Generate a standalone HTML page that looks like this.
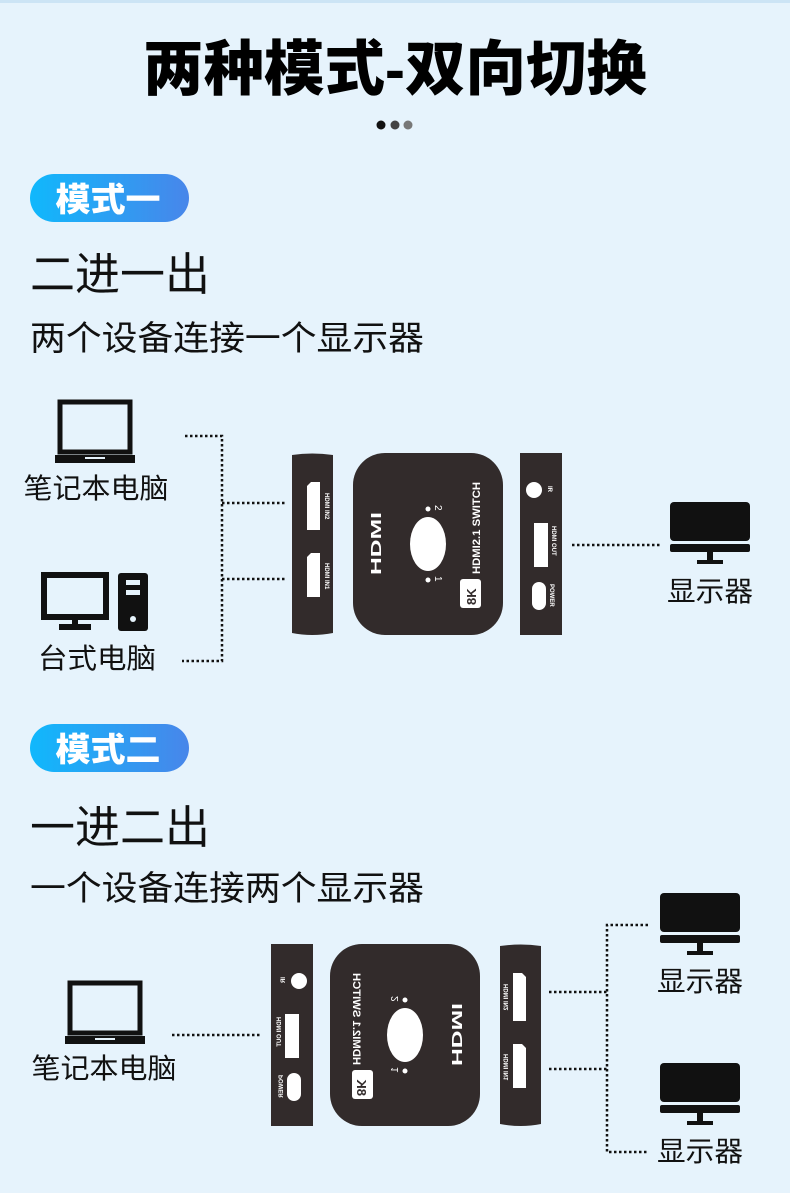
<!DOCTYPE html>
<html><head><meta charset="utf-8"><style>
html,body{margin:0;padding:0;background:#e6f3fc;}
svg{display:block;}
text{font-family:"Liberation Sans","Noto Sans CJK SC",sans-serif;}
</style></head><body>
<svg width="790" height="1193" viewBox="0 0 790 1193" xmlns="http://www.w3.org/2000/svg">
<defs>
<linearGradient id="g" x1="0" x2="1" y1="0" y2="0"><stop offset="0" stop-color="#10b8fc"/><stop offset="1" stop-color="#4886ea"/></linearGradient>
<g id="dev">
  <path d="M0 2 Q20 -1 41 2 L41 180 Q20 184 0 180 Z" fill="#322b2b"/>
  <rect x="15" y="33" width="13" height="44" fill="#fff"/><path d="M15 33 L19 29 L28 29 L28 33Z" fill="#fff"/>
  <rect x="15" y="104" width="13" height="40" fill="#fff"/><path d="M15 104 L19 100 L28 100 L28 104Z" fill="#fff"/>
  <text transform="translate(33,40) rotate(90)" font-size="6" font-weight="700" fill="#fff">HDMI IN2</text>
  <text transform="translate(33,110) rotate(90)" font-size="6" font-weight="700" fill="#fff">HDMI IN1</text>
  <rect x="61" y="0" width="150" height="182" rx="32" fill="#322b2b"/>
  <ellipse cx="136" cy="91" rx="18" ry="27" fill="#fff"/>
  <circle cx="136" cy="56" r="2.5" fill="#fff"/><circle cx="136" cy="127" r="2.5" fill="#fff"/>
  <text transform="translate(143,52) rotate(90)" font-size="10" fill="#fff">2</text>
  <text transform="translate(143,123) rotate(90)" font-size="10" fill="#fff">1</text>
  <text transform="translate(89,122) rotate(-90)" font-size="15" font-weight="900" fill="#fff" textLength="63" lengthAdjust="spacingAndGlyphs">HDMI</text>
  <text transform="translate(188,121) rotate(-90)" font-size="11" font-weight="700" fill="#fff" textLength="92" lengthAdjust="spacingAndGlyphs">HDMI2.1 SWITCH</text>
  <rect x="168" y="126" width="21" height="29" rx="3" fill="#fff"/>
  <text transform="translate(184,152) rotate(-90)" font-size="13" font-weight="900" fill="#322b2b">8K</text>
  <rect x="228" y="0" width="42" height="182" fill="#322b2b"/>
  <circle cx="242" cy="37" r="8" fill="#fff"/>
  <text transform="translate(256,33) rotate(90)" font-size="6" font-weight="700" fill="#fff">IR</text>
  <rect x="242" y="70" width="14" height="44" fill="#fff"/>
  <text transform="translate(260,73) rotate(90)" font-size="6" font-weight="700" fill="#fff">HDMI OUT</text>
  <rect x="240" y="129" width="14" height="28" rx="7" fill="#fff"/>
  <text transform="translate(258,131) rotate(90)" font-size="6" font-weight="700" fill="#fff">POWER</text>
</g>
<g id="laptop">
  <rect x="5" y="0" width="70" height="50" fill="none" stroke="#111" stroke-width="5"/>
  <path d="M0 53 L80 53 L80 61 L0 61Z" fill="#111"/>
  <rect x="30" y="55" width="20" height="2" fill="#e6f3fc"/>
</g>
<g id="mon">
  <rect x="0" y="0" width="80" height="39" rx="4" fill="#111"/>
  <rect x="0" y="42" width="80" height="8" rx="2" fill="#111"/>
  <rect x="37" y="50" width="6" height="10" fill="#111"/>
  <rect x="27" y="58" width="26" height="4" fill="#111"/>
</g>
</defs>
<rect x="0" y="0" width="790" height="3" fill="#cce4f5"/>
<text x="395" y="90" text-anchor="middle" font-size="60" font-weight="900" fill="#000" textLength="504" lengthAdjust="spacingAndGlyphs">两种模式-双向切换</text>
<circle cx="381" cy="125" r="4.5" fill="#111"/><circle cx="395" cy="125" r="4.5" fill="#444"/><circle cx="408" cy="125" r="4.5" fill="#777"/>

<rect x="30" y="174" width="159" height="48" rx="24" fill="url(#g)"/>
<text x="108" y="211" text-anchor="middle" font-size="33" font-weight="900" fill="#fff" textLength="105" lengthAdjust="spacingAndGlyphs">模式一</text>
<text x="30" y="290" font-size="45" fill="#111" textLength="180" lengthAdjust="spacingAndGlyphs">二进一出</text>
<text x="30" y="350" font-size="34" fill="#111" textLength="394" lengthAdjust="spacingAndGlyphs">两个设备连接一个显示器</text>

<use href="#laptop" x="55" y="402"/>
<text x="96" y="498" text-anchor="middle" font-size="28" fill="#111" textLength="145" lengthAdjust="spacingAndGlyphs">笔记本电脑</text>
<rect x="44" y="575" width="62" height="42" fill="none" stroke="#111" stroke-width="6"/>
<rect x="72" y="617" width="6" height="8" fill="#111"/><rect x="59" y="624" width="32" height="6" fill="#111"/>
<rect x="118" y="573" width="30" height="58" rx="3" fill="#111"/>
<rect x="126" y="580" width="14" height="5" fill="#e6f3fc"/><rect x="126" y="590" width="14" height="5" fill="#e6f3fc"/>
<circle cx="133" cy="619" r="3" fill="#e6f3fc"/>
<text x="97" y="668" text-anchor="middle" font-size="28" fill="#111" textLength="118" lengthAdjust="spacingAndGlyphs">台式电脑</text>
<g stroke="#111" stroke-width="2.5" stroke-dasharray="2.5 2.5" fill="none">
  <path d="M185 436 H222 V661 H182"/>
  <path d="M222 503 H285"/><path d="M222 579 H285"/>
  <path d="M572 545 H660"/>
</g>
<use href="#dev" x="292" y="453"/>
<use href="#mon" x="670" y="502"/>
<text x="710" y="601" text-anchor="middle" font-size="28" fill="#111" textLength="86" lengthAdjust="spacingAndGlyphs">显示器</text>

<rect x="30" y="724" width="159" height="48" rx="24" fill="url(#g)"/>
<text x="108" y="761" text-anchor="middle" font-size="33" font-weight="900" fill="#fff" textLength="105" lengthAdjust="spacingAndGlyphs">模式二</text>
<text x="30" y="843" font-size="45" fill="#111" textLength="180" lengthAdjust="spacingAndGlyphs">一进二出</text>
<text x="30" y="900" font-size="34" fill="#111" textLength="394" lengthAdjust="spacingAndGlyphs">一个设备连接两个显示器</text>

<use href="#laptop" x="65" y="983"/>
<text x="104" y="1078" text-anchor="middle" font-size="28" fill="#111" textLength="145" lengthAdjust="spacingAndGlyphs">笔记本电脑</text>
<g stroke="#111" stroke-width="2.5" stroke-dasharray="2.5 2.5" fill="none">
  <path d="M172 1035 H262"/>
  <path d="M549 992 H607"/><path d="M549 1069 H607"/>
  <path d="M648 925 H607 V1152 H648"/>
</g>
<g transform="translate(541,944) scale(-1,1)"><use href="#dev"/></g>
<use href="#mon" x="660" y="893"/>
<text x="700" y="991" text-anchor="middle" font-size="28" fill="#111" textLength="86" lengthAdjust="spacingAndGlyphs">显示器</text>
<use href="#mon" x="660" y="1063"/>
<text x="700" y="1161" text-anchor="middle" font-size="28" fill="#111" textLength="86" lengthAdjust="spacingAndGlyphs">显示器</text>
</svg>
</body></html>
